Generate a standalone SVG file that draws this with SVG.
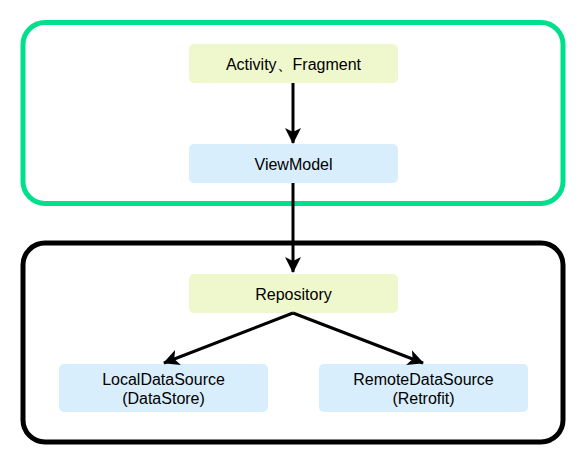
<svg xmlns="http://www.w3.org/2000/svg" width="586" height="466" viewBox="0 0 586 466">
<defs>
<marker id="arr" viewBox="0 0 16 16" refX="15" refY="8" markerWidth="16" markerHeight="16" markerUnits="userSpaceOnUse" orient="auto">
<path d="M0,0 L16,8 L0,16 L4,8 Z" fill="#000"/>
</marker>
<style>
.grp{fill:none;stroke-width:5}
.node rect{stroke:none}
.y{fill:#eff7cd}
.b{fill:#d9eefc}
text{font-family:"Liberation Sans",Arial,sans-serif;font-size:16px;fill:#000;text-anchor:middle}
.edge{stroke:#000;stroke-width:3;fill:none;marker-end:url(#arr)}
</style>
</defs>
<rect width="586" height="466" fill="#fff"/>
<g id="ui-layer"><rect class="grp" x="23" y="22.5" width="540" height="181" rx="22" stroke="#00e08c"/></g>
<g id="data-layer"><rect class="grp" x="23" y="243" width="540" height="199" rx="22" stroke="#000"/></g>
<g id="activity" class="node"><rect class="y" x="189" y="44" width="209" height="39" rx="5"/><text x="293.5" y="69.5">Activity、Fragment</text></g>
<g id="viewmodel" class="node"><rect class="b" x="189" y="144" width="209" height="39" rx="5"/><text x="293.5" y="169.5">ViewModel</text></g>
<g id="repository" class="node"><rect class="y" x="189" y="274" width="209" height="39" rx="5"/><text x="293.5" y="299.5">Repository</text></g>
<g id="local" class="node"><rect class="b" x="59" y="364" width="209" height="48" rx="5"/><text x="163.5" y="384.5">LocalDataSource</text><text x="163.5" y="403.5">(DataStore)</text></g>
<g id="remote" class="node"><rect class="b" x="319" y="364" width="209" height="48" rx="5"/><text x="423.5" y="384.5">RemoteDataSource</text><text x="423.5" y="403.5">(Retrofit)</text></g>
<g id="connectors">
<line class="edge" x1="293" y1="83" x2="293" y2="143"/>
<line class="edge" x1="293" y1="183" x2="293" y2="272"/>
<line class="edge" x1="293" y1="313" x2="164" y2="363"/>
<line class="edge" x1="293" y1="313" x2="423" y2="363"/>
</g>
</svg>
